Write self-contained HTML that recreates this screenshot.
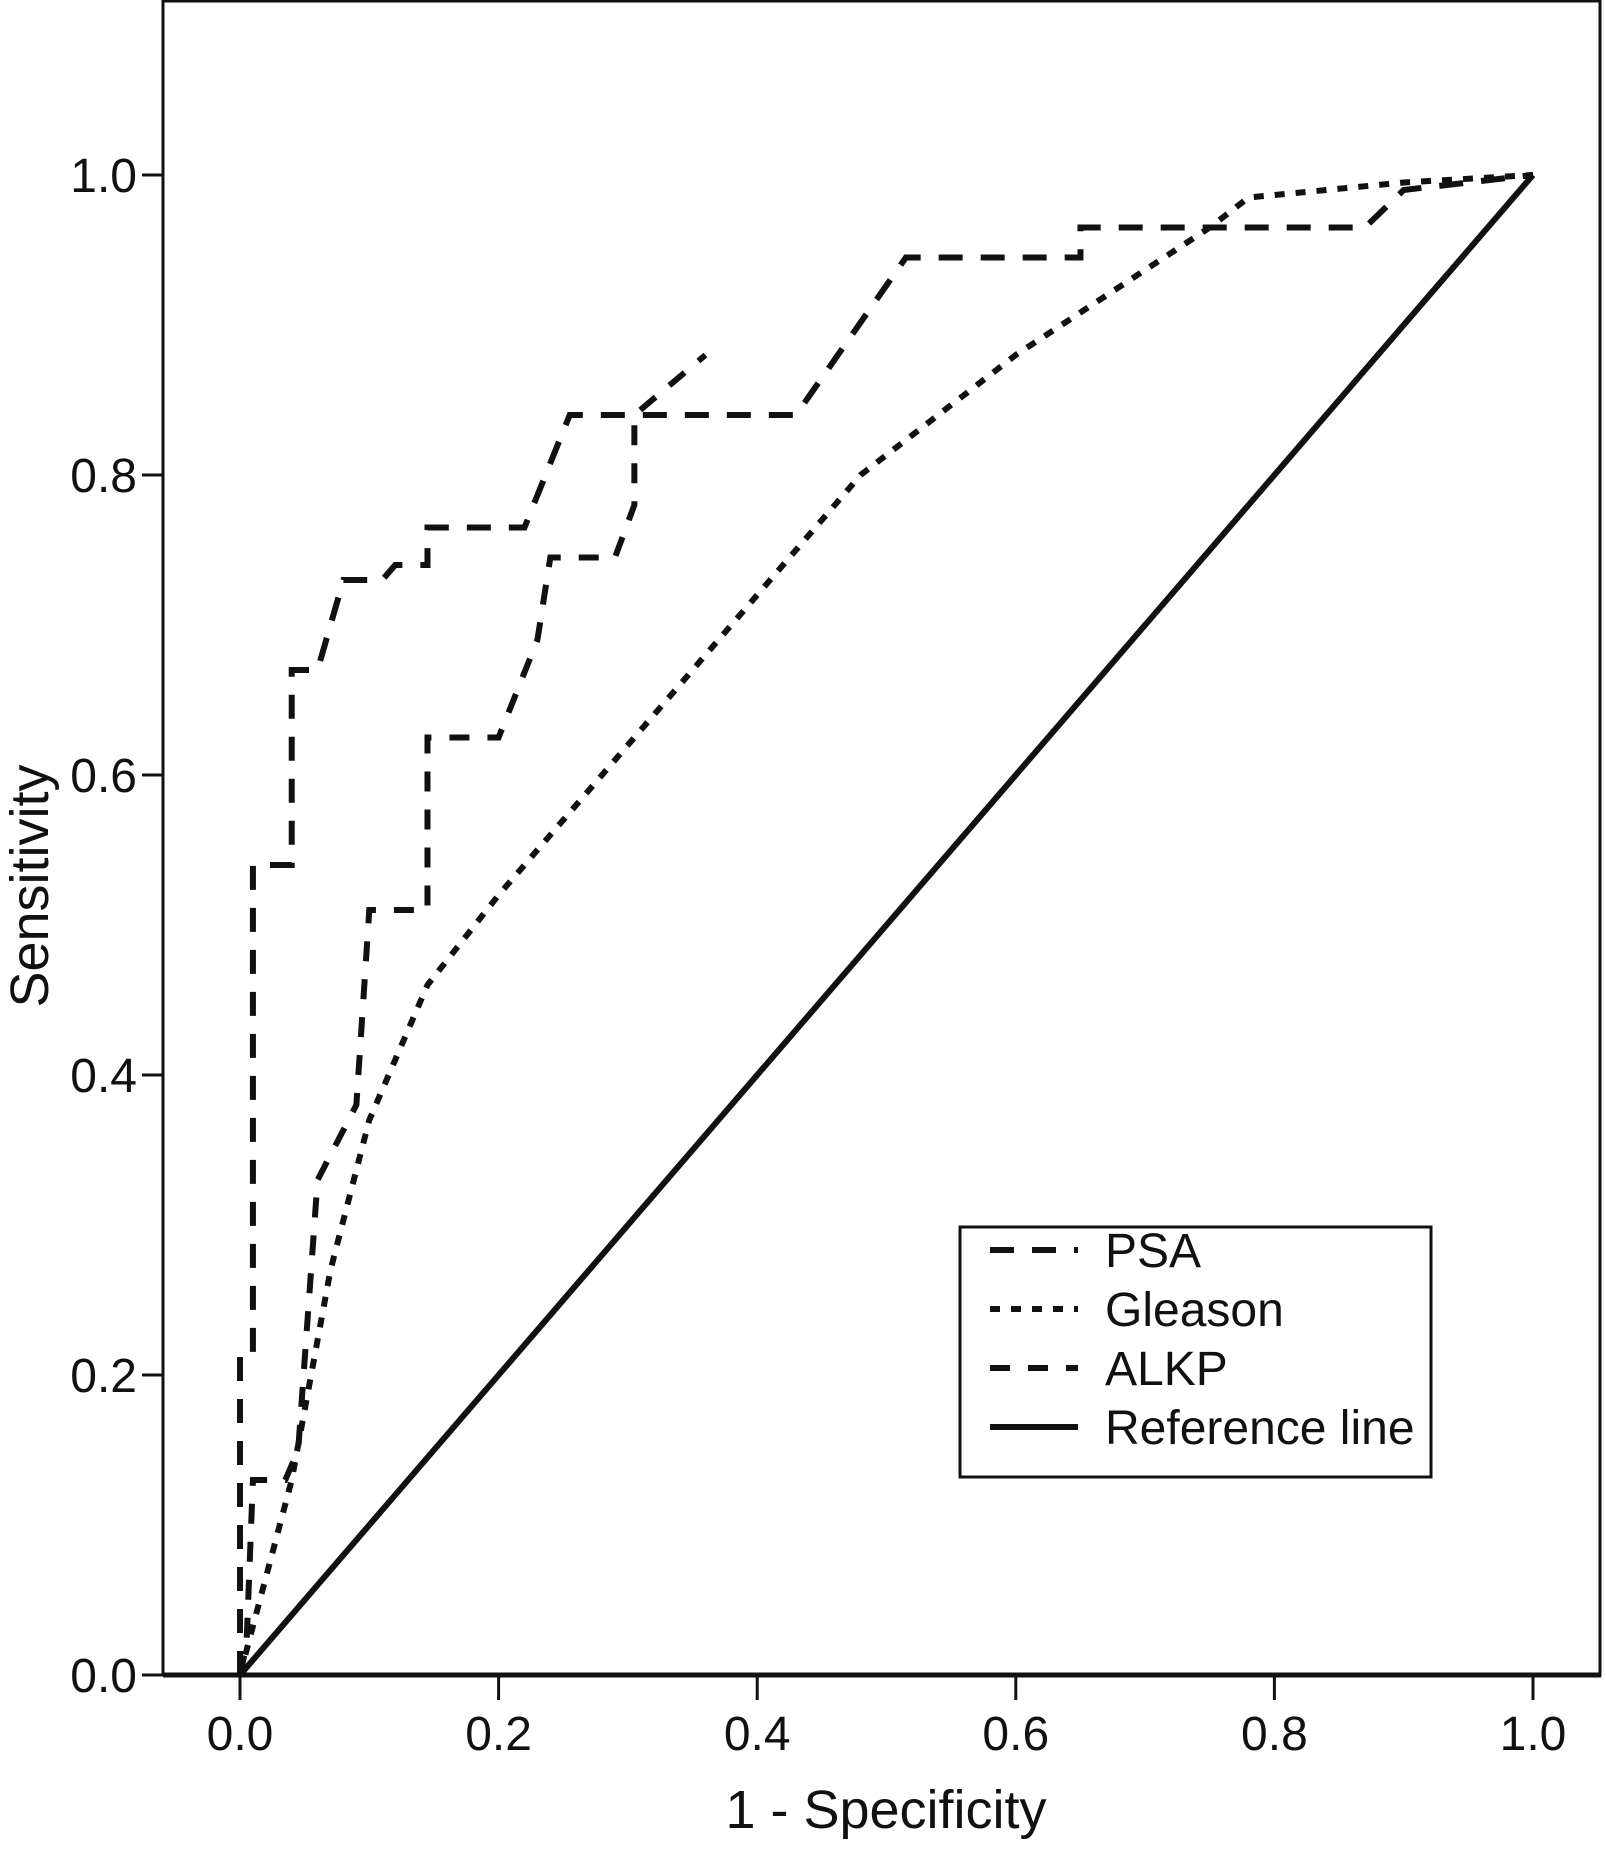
<!DOCTYPE html>
<html><head><meta charset="utf-8"><style>
html,body{margin:0;padding:0;background:#fff}
svg text{font-family:"Liberation Sans",sans-serif;fill:#111}
</style></head><body>
<svg width="1606" height="1853" viewBox="0 0 1606 1853">
<g id="plot"></g>
</svg>
<script>
const xTicks=[0,0.2,0.4,0.6,0.8,1.0];
const yTicks=[0,0.2,0.4,0.6,0.8,1.0];
const tickLabels=["0.0","0.2","0.4","0.6","0.8","1.0"];
const psaX=[0,0,0.01,0.01,0.04,0.04,0.06,0.08,0.11,0.12,0.145,0.145,0.22,0.255,0.43,0.515,0.65,0.65,0.87,0.9,1];
const psaY=[0,0.21,0.21,0.54,0.54,0.67,0.67,0.73,0.73,0.74,0.74,0.765,0.765,0.84,0.84,0.945,0.945,0.965,0.965,0.99,1];
const alkpX=[0,0.005,0.01,0.035,0.045,0.06,0.09,0.1,0.12,0.145,0.145,0.2,0.23,0.24,0.29,0.305,0.305,0.36];
const alkpY=[0,0.02,0.13,0.13,0.15,0.33,0.38,0.51,0.51,0.51,0.625,0.625,0.69,0.745,0.745,0.78,0.84,0.88];
const gleX=[0,0.04,0.07,0.1,0.145,0.2,0.3,0.4,0.48,0.6,0.75,0.78,0.9,1];
const gleY=[0,0.13,0.27,0.37,0.46,0.52,0.62,0.72,0.8,0.88,0.965,0.985,0.995,1];
const refX=[0,1], refY=[0,1];
const X=v=>240+v*(1533-240);
const Y=v=>1675-v*(1675-175);
const g=document.getElementById('plot');
const NS='http://www.w3.org/2000/svg';
function mk(t,a){const e=document.createElementNS(NS,t);for(const k in a)e.setAttribute(k,a[k]);g.appendChild(e);return e;}
let fr=mk('rect',{x:163,y:1,width:1437,height:1674,fill:'none',stroke:'#111','stroke-width':3});


let ax=mk('line',{x1:163,y1:1675,x2:1601,y2:1675,stroke:'#111','stroke-width':5});


xTicks.forEach((v,i)=>{
 let l=mk('line',{x1:X(v),y1:1675,x2:X(v),y2:1700,stroke:'#111','stroke-width':3});
 
 
 let t=mk('text',{x:X(v),y:1750,'text-anchor':'middle','font-size':48});
 t.textContent=tickLabels[i];
 
 
});
yTicks.forEach((v,i)=>{
 let l=mk('line',{x1:142,y1:Y(v),x2:163,y2:Y(v),stroke:'#111','stroke-width':3});
 
 
 let t=mk('text',{x:137,y:Y(v)+17,'text-anchor':'end','font-size':48});
 t.textContent=tickLabels[i];
 
 
});
let xt=mk('text',{x:886,y:1828,'text-anchor':'middle','font-size':54});
xt.textContent='1 - Specificity';


let yt=mk('text',{x:0,y:0,'text-anchor':'middle','font-size':54,transform:'translate(48,886) rotate(-90)'});
yt.textContent='Sensitivity';


function series(xs,ys,dash,name){
 const p=mk('polyline',{points:xs.map((x,i)=>X(x)+','+Y(ys[i])).join(' '),fill:'none',stroke:'#111','stroke-width':6,'stroke-dasharray':dash});
 
 
}
series(refX,refY,'none','reference-line');
series(gleX,gleY,'10 11','gleason-curve');
series(alkpX,alkpY,'20 18','alkp-curve');
series(psaX,psaY,'24 18','psa-curve');
let lb=mk('rect',{x:960,y:1227,width:471,height:250,fill:'#fff',stroke:'#111','stroke-width':3});


const legNames=['PSA','Gleason','ALKP','Reference line'];
const legDash=['24 18','10 11','20 18','none'];
legNames.forEach((n,i)=>{
 const y=1250+i*59;
 let l=mk('line',{x1:990,y1:y,x2:1078,y2:y,stroke:'#111','stroke-width':6,'stroke-dasharray':legDash[i]});
 
 
 let t=mk('text',{x:1105,y:y+17,'font-size':48});
 t.textContent=n;
 
 
});
</script>
</body></html>
